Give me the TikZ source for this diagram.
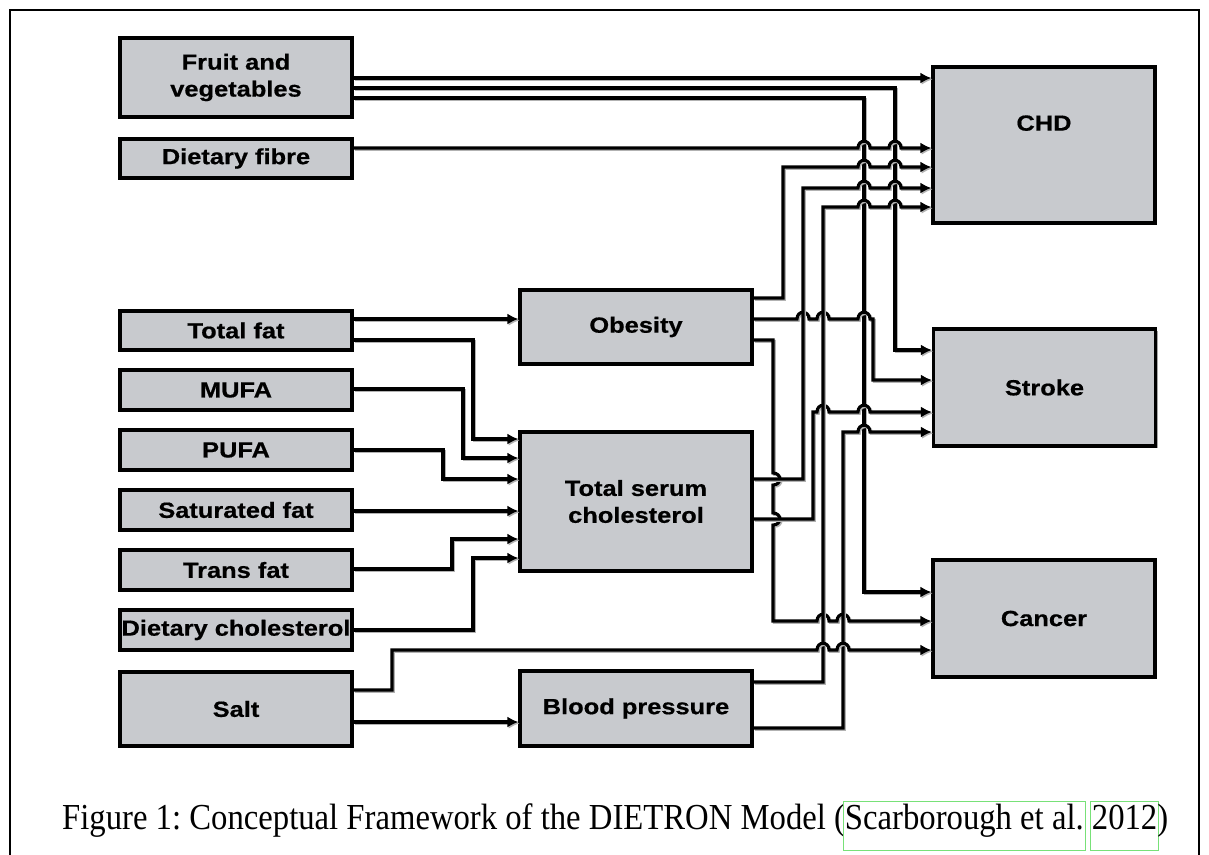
\documentclass[tikz,border=0pt]{standalone}
\usepackage{fontspec}
\usepackage{graphicx}
\usetikzlibrary{arrows.meta,shadows}
\newfontfamily\boxfont[FakeStretch=1.16,FakeBold=0.6]{Liberation Sans}
\newfontfamily\capfont{Liberation Serif}
\definecolor{boxgray}{RGB}{200,202,206}
\definecolor{linkgreen}{RGB}{120,225,120}
\newcommand\gbox[1]{\hspace{-1.6pt}{\color{linkgreen}\fboxsep=1pt\fboxrule=0.6pt\fbox{\color{black}\rule[-0.55em]{0pt}{1.25em}#1}}\hspace{-1.6pt}}
\begin{document}
\begin{tikzpicture}[x=1bp,y=-1bp,
  box/.style={draw=black, line width=3.2bp, fill=boxgray, inner sep=0pt, align=center,
     font=\boxfont\bfseries\fontsize{22}{27}\selectfont,
     general shadow={fill=black!35, shadow xshift=2.2bp, shadow yshift=-2.2bp}},
  inbox/.style={box, minimum width=232bp, minimum height=40bp},
  outbox/.style={box, minimum width=222bp},
  midbox/.style={box, minimum width=232bp},
  conn/.style={line width=3.1bp, -{Latex[length=11bp,width=11bp]},
     preaction={draw=black!30, line width=3.1bp, transform canvas={shift={(1.3bp,-1.3bp)}}}},
  hop/.style 2 args={insert path={-- (#1-6,#2) .. controls (#1-6,#2-9) and (#1+6,#2-9) .. (#1+6,#2)}},
  vhop/.style 2 args={insert path={-- (#1,#2-6) .. controls (#1+9,#2-6) and (#1+9,#2+6) .. (#1,#2+6)}},
]
\useasboundingbox (0,0) rectangle (1209,855);
\draw[line width=1.2bp] (10,855) -- (10,10) -- (1199,10) -- (1199,855);

% boxes
\node[inbox, minimum height=79bp] (fruit) at (236,77.5) {Fruit and\\vegetables};
\node[inbox, minimum height=39bp] (fibre) at (236,158.5) {Dietary fibre};
\node[inbox, minimum height=39bp] (totalfat) at (236,330.5) {Total fat};
\node[inbox] (mufa) at (236,390) {MUFA};
\node[inbox] (pufa) at (236,450) {PUFA};
\node[inbox] (satfat) at (236,510) {Saturated fat};
\node[inbox] (transfat) at (236,570) {Trans fat};
\node[inbox] (dietchol) at (236,630) {Dietary cholesterol};
\node[inbox, minimum height=74bp] (salt) at (236,709) {Salt};
\node[midbox, minimum height=74bp] (obesity) at (636,327) {Obesity};
\node[midbox, minimum height=139bp] (tsc) at (636,501.5) {Total serum\\cholesterol};
\node[midbox, minimum height=75bp] (bp) at (636,708.5) {Blood pressure};
\node[outbox, minimum height=156bp] (chd) at (1044,145) {\raisebox{44bp}{CHD}};
\node[outbox, minimum height=117bp] (stroke) at (1044.5,387.5) {Stroke};
\node[outbox, minimum height=117bp] (cancer) at (1044,618.5) {Cancer};

% inputs to total serum cholesterol / obesity
\draw[conn] (totalfat.east |- 0,319) -- (obesity.west |- 0,319);
\draw[conn] (totalfat.east |- 0,340) -- (473,340) -- (473,439) -- (tsc.west |- 0,439);
\draw[conn] (mufa.east |- 0,389) -- (463,389) -- (463,458) -- (tsc.west |- 0,458);
\draw[conn] (pufa.east |- 0,450) -- (443,450) -- (443,479) -- (tsc.west |- 0,479);
\draw[conn] (satfat.east |- 0,511) -- (tsc.west |- 0,511);
\draw[conn] (transfat.east |- 0,569) -- (452,569) -- (452,539) -- (tsc.west |- 0,539);
\draw[conn] (dietchol.east |- 0,630) -- (473,630) -- (473,558) -- (tsc.west |- 0,558);
\draw[conn] (salt.east |- 0,722) -- (bp.west |- 0,722);

% fruit and fibre
\draw[conn] (fruit.east |- 0,78) -- (chd.west |- 0,78);
\draw[conn] (fruit.east |- 0,88) -- (895,88) -- (895,350) -- (stroke.west |- 0,350);
\draw[conn] (fruit.east |- 0,98) -- (864,98) -- (864,592) -- (cancer.west |- 0,592);
\draw[conn] (fibre.east |- 0,148) [hop={864}{148}] [hop={895}{148}] -- (chd.west |- 0,148);

% obesity
\draw[conn] (obesity.east |- 0,298) -- (783,298) -- (783,167) [hop={864}{167}] [hop={895}{167}] -- (chd.west |- 0,167);
\draw[conn] (obesity.east |- 0,319) [hop={803}{319}] [hop={823}{319}] [hop={864}{319}] -- (873,319) -- (873,380) -- (stroke.west |- 0,380);
\draw[conn] (obesity.east |- 0,340) -- (773,340) [vhop={773}{479}] [vhop={773}{519}] -- (773,621) [hop={823}{621}] [hop={843}{621}] -- (cancer.west |- 0,621);

% total serum cholesterol
\draw[conn] (tsc.east |- 0,479) -- (803,479) -- (803,188) [hop={864}{188}] [hop={895}{188}] -- (chd.west |- 0,188);
\draw[conn] (tsc.east |- 0,519) -- (813,519) -- (813,412) [hop={823}{412}] [hop={864}{412}] -- (stroke.west |- 0,412);

% blood pressure
\draw[conn] (bp.east |- 0,682) -- (823,682) -- (823,207) [hop={864}{207}] [hop={895}{207}] -- (chd.west |- 0,207);
\draw[conn] (bp.east |- 0,728) -- (843,728) -- (843,432) [hop={864}{432}] -- (stroke.west |- 0,432);

% salt
\draw[conn] (salt.east |- 0,690) -- (392,690) -- (392,650) [hop={823}{650}] [hop={843}{650}] -- (cancer.west |- 0,650);

% caption
\node[anchor=base west, inner sep=0pt] (caption) at (62,829)
  {\resizebox{1106bp}{!}{\scalebox{1}[1.12]{\capfont\frenchspacing\fontsize{30}{36}\selectfont Figure 1: Conceptual Framework of the DIETRON Model (\gbox{Scarborough et al.} \gbox{2012})}}};
\end{tikzpicture}
\end{document}
